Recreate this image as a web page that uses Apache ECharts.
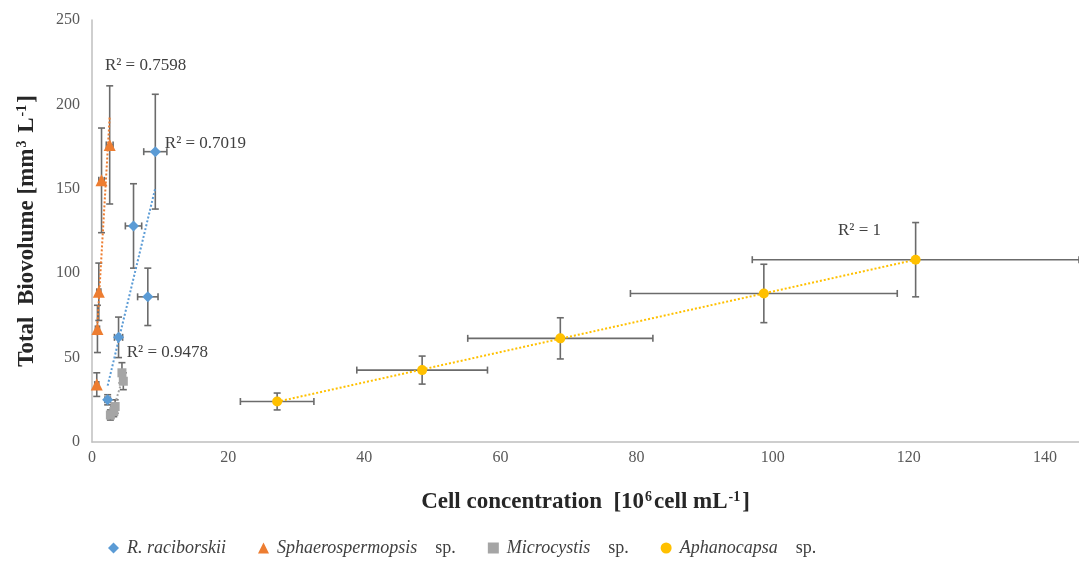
<!DOCTYPE html>
<html>
<head>
<meta charset="utf-8">
<script src="https://cdn.jsdelivr.net/npm/echarts@6/dist/echarts.min.js"></script>
<style>
  html, body { margin: 0; padding: 0; background: #fff; }
  #chart { width: 1079px; height: 575px; }
</style>
</head>
<body>
<div id="chart"></div>
<script>
// values: x, y, x error, y error
const raciX = [2.3, 3.9, 6.1, 8.2, 9.3];
const raciY = [25, 62, 128, 86, 172];
const raciXErr = [0.4, 0.6, 1.2, 1.5, 1.7];
const raciYErr = [3, 12, 25, 17, 34];

const sphaX = [0.7, 0.8, 1.0, 1.4, 2.6];
const sphaY = [34, 67, 89, 155, 176];
const sphaXErr = [0.3, 0.3, 0.3, 0.4, 0.5];
const sphaYErr = [7, 14, 17, 31, 35];

const microX = [2.7, 3.2, 3.4, 4.6, 4.4];
const microY = [16, 18, 21, 36, 41];
const microXErr = [0.3, 0.3, 0.3, 0.4, 0.4];
const microYErr = [3, 3, 4, 5, 6];

const aphaX = [27.2, 48.5, 68.8, 98.7, 121];
const aphaY = [24, 42.6, 61.4, 88, 108];
const aphaXErr = [5.4, 9.6, 13.6, 19.6, 24];
const aphaYErr = [5, 8.3, 12.2, 17.3, 22];

const xTicks = [0, 20, 40, 60, 80, 100, 120, 140];
const yTicks = [0, 50, 100, 150, 200, 250];

const r2Labels = ['R² = 0.7019', 'R² = 0.7598', 'R² = 0.9478', 'R² = 1'];

const colors = ['#5b9bd5', '#ed7d31', '#a5a5a5', '#ffc000'];
const serif = '"Liberation Serif", "DejaVu Serif", serif';

function zip(xs, ys) {
  return xs.map((x, i) => [x, ys[i]]);
}

// least squares line over the data range (Excel linear trendline)
function trend(xs, ys) {
  const n = xs.length;
  const mx = xs.reduce((a, b) => a + b, 0) / n;
  const my = ys.reduce((a, b) => a + b, 0) / n;
  let sxy = 0, sxx = 0;
  xs.forEach((x, i) => {
    sxy += (x - mx) * (ys[i] - my);
    sxx += (x - mx) * (x - mx);
  });
  const b = sxy / sxx;
  const a = my - b * mx;
  const lo = Math.min(...xs), hi = Math.max(...xs);
  return [[lo, a + b * lo], [hi, a + b * hi]];
}

function errorBars(name, xs, ys, xe, ye) {
  return {
    name: name + ' err',
    type: 'custom',
    z: 1,
    data: xs.map((x, i) => [x, ys[i], xe[i], ye[i]]),
    renderItem: (params, api) => {
      const x = api.value(0), y = api.value(1);
      const dx = api.value(2), dy = api.value(3);
      const c = api.coord([x, y]);
      const l = api.coord([x - dx, y]);
      const r = api.coord([x + dx, y]);
      const t = api.coord([x, y + dy]);
      const b = api.coord([x, y - dy]);
      const cap = 3.5;
      const style = { stroke: '#6b6b6b', lineWidth: 1.6 };
      const line = (x1, y1, x2, y2) => ({
        type: 'line', shape: { x1, y1, x2, y2 }, style
      });
      return {
        type: 'group',
        children: [
          line(l[0], c[1], r[0], c[1]),
          line(l[0], c[1] - cap, l[0], c[1] + cap),
          line(r[0], c[1] - cap, r[0], c[1] + cap),
          line(c[0], t[1], c[0], b[1]),
          line(c[0] - cap, t[1], c[0] + cap, t[1]),
          line(c[0] - cap, b[1], c[0] + cap, b[1])
        ]
      };
    }
  };
}

function trendSeries(name, xs, ys, color) {
  return {
    name: name + ' trend',
    type: 'line',
    z: 2,
    data: trend(xs, ys),
    showSymbol: false,
    silent: true,
    lineStyle: { color, type: 'dotted', width: 2 }
  };
}

function scatter(name, xs, ys, symbol, size, color) {
  return {
    name,
    type: 'scatter',
    z: 3,
    symbol,
    symbolSize: size,
    itemStyle: { color, opacity: 1 },
    data: zip(xs, ys)
  };
}

const names = ['R. raciborskii', 'Sphaerospermopsis', 'Microcystis', 'Aphanocapsa'];

const labelStyle = { color: '#404040', fontFamily: serif, fontSize: 17 };
function r2(coord, text) {
  return { coord, value: text, symbolSize: 0,
    label: { show: true, position: 'right', distance: 0, formatter: text, ...labelStyle } };
}

const titleRich = size => ({
  b: { fontFamily: serif, fontWeight: 'bold', fontSize: size, color: '#262626' },
  s: { fontFamily: serif, fontWeight: 'bold', fontSize: Math.round(size * 0.6), color: '#262626',
       verticalAlign: 'top', padding: [0, 2, Math.round(size * 0.45), 1] }
});

const chart = echarts.init(document.getElementById('chart'));
chart.setOption({
  animation: false,
  grid: { left: 92, right: 0, top: 20, bottom: 133 },
  xAxis: {
    type: 'value',
    min: 0, max: 145, interval: 20,
    name: '{b|Cell concentration  [10}{s|6}{b|cell mL}{s|-1}{b|]}',
    nameLocation: 'middle',
    nameGap: 48,
    nameTextStyle: { rich: titleRich(23) },
    splitLine: { show: false },
    axisTick: { show: false },
    axisLine: { lineStyle: { color: '#bfbfbf', width: 1.5 } },
    axisLabel: {
      color: '#595959', fontFamily: serif, fontSize: 16, margin: 8,
      showMaxLabel: false,
      formatter: v => xTicks.includes(v) ? String(v) : ''
    }
  },
  yAxis: {
    type: 'value',
    min: 0, max: 250, interval: 50,
    name: '{b|Total  Biovolume [mm}{s|3}{b| L}{s|-1}{b|]}',
    nameLocation: 'middle',
    nameGap: 53,
    nameTextStyle: { rich: titleRich(23) },
    splitLine: { show: false },
    axisTick: { show: false },
    axisLine: { show: true, lineStyle: { color: '#bfbfbf', width: 1.5 } },
    axisLabel: {
      color: '#595959', fontFamily: serif, fontSize: 16, margin: 12,
      formatter: v => yTicks.includes(v) ? String(v) : ''
    }
  },
  legend: {
    data: names,
    left: 103,
    top: 534,
    itemGap: 32,
    itemWidth: 11,
    itemHeight: 11,
    formatter: n => n === 'R. raciborskii' ? '{i|' + n + '}' : '{i|' + n + '}{n|    sp.}',
    textStyle: {
      padding: [0, 0, 0, 3],
      rich: {
        i: { fontFamily: serif, fontStyle: 'italic', fontSize: 18, color: '#404040' },
        n: { fontFamily: serif, fontSize: 18, color: '#404040' }
      }
    }
  },
  series: [
    errorBars(names[0], raciX, raciY, raciXErr, raciYErr),
    errorBars(names[1], sphaX, sphaY, sphaXErr, sphaYErr),
    errorBars(names[2], microX, microY, microXErr, microYErr),
    errorBars(names[3], aphaX, aphaY, aphaXErr, aphaYErr),
    trendSeries(names[0], raciX, raciY, colors[0]),
    trendSeries(names[1], sphaX, sphaY, colors[1]),
    trendSeries(names[2], microX, microY, colors[2]),
    trendSeries(names[3], aphaX, aphaY, colors[3]),
    scatter(names[0], raciX, raciY, 'diamond', 11, colors[0]),
    scatter(names[1], sphaX, sphaY, 'triangle', 12, colors[1]),
    scatter(names[2], microX, microY, 'rect', 9, colors[2]),
    scatter(names[3], aphaX, aphaY, 'circle', 10, colors[3]),
    {
      name: 'r2',
      type: 'scatter',
      data: [],
      markPoint: {
        symbolSize: 0,
        data: [
          r2([10.7, 177], r2Labels[0]),
          r2([1.9, 223], r2Labels[1]),
          r2([5.1, 53], r2Labels[2]),
          r2([109.6, 125.4], r2Labels[3])
        ]
      }
    }
  ]
});
</script>
</body>
</html>
